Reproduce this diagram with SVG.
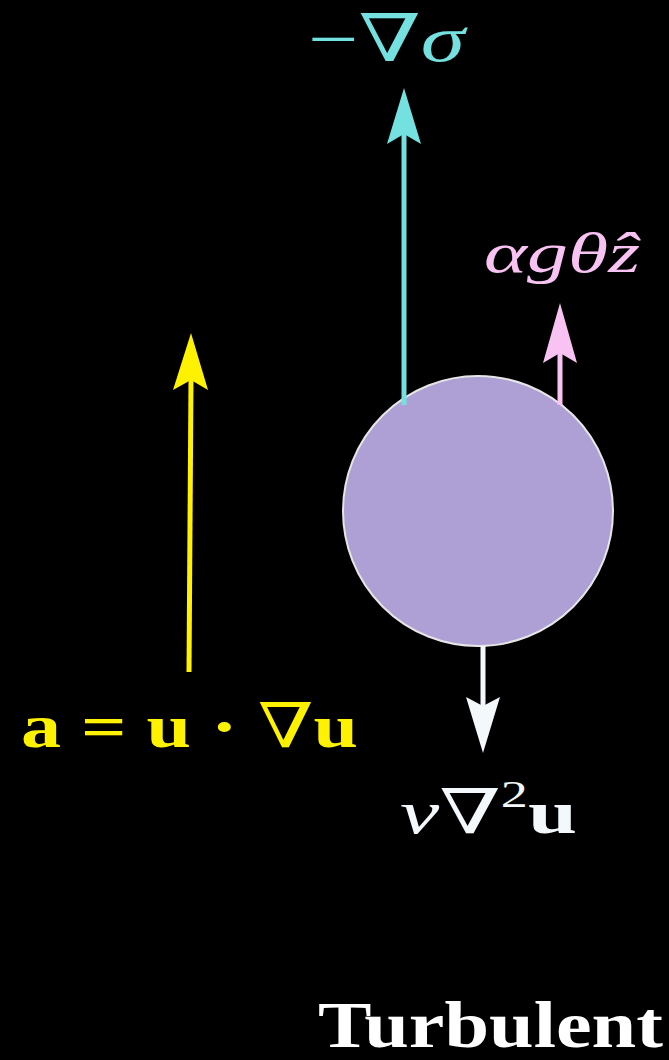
<svg xmlns="http://www.w3.org/2000/svg" width="669" height="1060" viewBox="0 0 669 1060">
<style>
.m{font-family:"Liberation Serif","DejaVu Serif",serif}
.i{font-style:italic}
.s{font-family:"DejaVu Serif","Liberation Serif",serif;font-weight:normal}
.b{font-weight:bold}
</style>
<rect width="669" height="1060" fill="#000"/>
<g id="parcel">
<circle cx="478" cy="511" r="135" fill="#AEA0D5" stroke="#E6E6E6" stroke-width="2"/>
</g>
<g id="connectors">
<line x1="404" y1="405" x2="404" y2="130" stroke="#74E0E0" stroke-width="5"/>
<polygon points="404,88 387,144 404,134 421,144" fill="#74E0E0"/>
<line x1="560" y1="405" x2="560" y2="350" stroke="#F8C2F2" stroke-width="5"/>
<polygon points="560,303 543,363 560,353 577,363" fill="#F8C2F2"/>
<line x1="189" y1="672" x2="191" y2="380" stroke="#FFF200" stroke-width="5"/>
<polygon points="191,333 173,390 191,380 208,390" fill="#FFF200"/>
<line x1="483" y1="646" x2="483" y2="710" stroke="#F2F8FC" stroke-width="5"/>
<polygon points="483,753 466,697 483,706 500,697" fill="#F2F8FC"/>
</g>
<g id="label-pressure">
<text x="308" y="61" class="m" font-size="66" fill="#74E0E0" textLength="157" lengthAdjust="spacingAndGlyphs"><tspan>−</tspan><tspan class="s">∇</tspan><tspan class="i">σ</tspan></text>
</g>
<g id="label-buoyancy">
<text x="484" y="272" class="m i" font-size="58" fill="#F8C2F2" textLength="156" lengthAdjust="spacingAndGlyphs">αgθẑ</text>
</g>
<g id="label-advection">
<text x="21" y="747" class="m b" font-size="62" fill="#FFF200" textLength="337" lengthAdjust="spacingAndGlyphs">a = u · <tspan class="s">∇</tspan>u</text>
</g>
<g id="label-viscous">
<text x="400" y="833" class="m" font-size="62" fill="#F2F8FC" textLength="177" lengthAdjust="spacingAndGlyphs"><tspan class="i">ν</tspan><tspan class="s">∇</tspan><tspan font-size="38" dy="-26">2</tspan><tspan class="b" dy="26">u</tspan></text>
</g>
<g id="title">
<text x="318" y="1047" class="m b" font-size="66" fill="#FFFFFF" textLength="345" lengthAdjust="spacingAndGlyphs">Turbulent</text>
</g>
</svg>
